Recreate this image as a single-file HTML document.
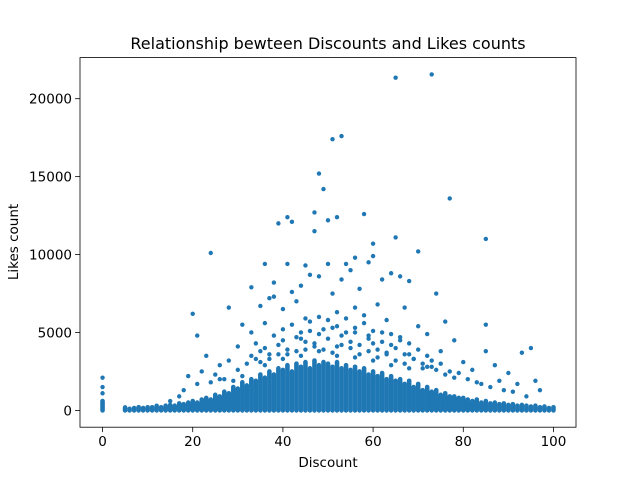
<!DOCTYPE html>
<html><head><meta charset="utf-8"><style>
body{margin:0;background:#fff}
svg{display:block;font-family:"DejaVu Sans","Liberation Sans",sans-serif}
</style></head><body>
<svg id="chart" width="640" height="480" xmlns="http://www.w3.org/2000/svg">
<rect width="640" height="480" fill="#fff"/>
<text x="328" y="49" font-size="16" text-anchor="middle" fill="#000">Relationship bewteen Discounts and Likes counts</text>
<text x="328" y="467" font-size="13.5" text-anchor="middle" fill="#000">Discount</text>
<text x="18" y="242" font-size="13.5" text-anchor="middle" fill="#000" transform="rotate(-90 18 242)">Likes count</text>
<g id="marks"></g>
<g id="blob"></g>
<g id="axes"></g>
</svg>
<script>
const xTicks = [0, 20, 40, 60, 80, 100];
const yTicks = [0, 5000, 10000, 15000, 20000];
const yTickLabels = ["0", "5000", "10000", "15000", "20000"];
const blobDiscounts = [0,5,6,7,8,9,10,11,12,13,14,15,16,17,18,19,20,21,22,23,24,25,26,27,28,29,30,31,32,33,34,35,36,37,38,39,40,41,42,43,44,45,46,47,48,49,50,51,52,53,54,55,56,57,58,59,60,61,62,63,64,65,66,67,68,69,70,71,72,73,74,75,76,77,78,79,80,81,82,83,84,85,86,87,88,89,90,91,92,93,94,95,96,97,98,99,100];
const blobTops = [600,150,100,150,200,150,200,200,250,200,300,350,300,450,400,500,600,500,700,800,700,1000,900,1200,1100,1500,1400,1800,1600,2000,1900,2300,2100,2500,2300,2700,2600,2900,2500,3000,2800,3100,2700,3200,2900,3100,3000,2800,3100,2700,2900,2600,2800,2500,2700,2300,2500,2200,2400,2000,2200,1900,2000,1700,1900,1500,1700,1300,1500,1200,1300,1000,1100,900,900,800,800,700,600,700,500,600,450,500,400,450,350,400,300,350,300,250,300,200,250,150,200];
const ptDiscount = [0,0,0,73,65,53,51,48,49,77,47,50,52,58,41,42,39,85,65,47,60,24,70,56,59,54,36,45,50,41,55,64,66,60,62,68,46,48,53,38,44,33,57,42,74,38,37,51,28,20,35,43,61,67,52,56,40,21,31,85,76,78,72,23,85,19,95,93,87,90,96,33,36,45,58,63,70,26,22,30,34,44,49,54,59,66,75,80,82,88,92,97,15,12,8,5,25,28,64,68,73,
 30,32,34,35,37,39,40,41,43,45,46,47,48,50,51,52,53,55,56,57,59,60,61,62,63,65,67,69,71,72,74,76,78,31,33,36,38,40,42,44,46,48,50,52,54,56,58,60,62,64,66,68,70,72,75,79,81,84,86,89,29,35,39,43,47,49,51,55,57,61,65,67,71,77,27,37,41,45,53,59,63,69,73,83,91,94,17,18,21,24,26,36,40,44,48,52,56,60,64,68];
const ptLikes = [2100,1500,1100,21560,21350,17600,17400,15200,14200,13600,12700,12200,12400,12600,12400,12100,12000,11000,11100,11500,10700,10100,10200,9800,9500,9400,9400,9300,9400,9400,9000,8800,8600,9900,8400,8300,8700,8600,8400,8200,8000,7900,7800,7600,7500,7300,7200,7500,6600,6200,6700,7000,6800,6600,6300,6600,6500,4800,5500,5500,5700,4500,4900,3500,3800,2200,4000,3700,2900,2400,1900,5000,5600,5900,6100,5800,5400,2900,2500,4100,4300,4600,5200,5000,4800,4700,3800,3100,2600,1900,1700,1300,600,300,200,200,2300,3200,4200,3600,3200,
 2600,3000,3300,3800,3600,4200,4500,3900,4700,4400,5100,4300,4900,4600,5300,4100,4800,4400,5000,4200,4600,4300,3900,4400,3700,4000,3600,3300,3000,2800,2600,2300,2100,2200,3500,4000,4800,5200,5500,5000,5700,6000,5800,5400,5900,5300,5600,5100,5000,4900,4500,4300,3900,3500,3000,2400,2000,1700,1500,1300,1900,3100,3600,3800,4100,3900,3700,4000,3600,3400,3200,3000,2700,2500,2000,3300,3600,3900,4200,3800,3600,3300,2800,1800,1200,900,900,1300,1700,1800,2000,2900,3300,3500,3800,3500,3400,3200,2900,2700];

const L=80,R=576,T=57.6,B=427.2, xmin=-5,xmax=105, ymin=-1078,ymax=22638;
const sx=v=>L+(v-xmin)/(xmax-xmin)*(R-L);
const sy=v=>B-(v-ymin)/(ymax-ymin)*(B-T);
const NS="http://www.w3.org/2000/svg";
const C="#1f77b4";
const marks=document.getElementById('marks'), blob=document.getElementById('blob'), axes=document.getElementById('axes');
function mk(tag,attrs,parent){const e=document.createElementNS(NS,tag);for(const k in attrs)e.setAttribute(k,attrs[k]);parent.appendChild(e);return e;}
blobDiscounts.forEach((d,i)=>{
  const e=mk('line',{x1:sx(d),x2:sx(d),y1:sy(0),y2:sy(blobTops[i]),stroke:C,'stroke-width':4.6,'stroke-linecap':'round'},blob);
  
  
});
ptDiscount.forEach((d,i)=>{
  const e=mk('circle',{cx:sx(d),cy:sy(ptLikes[i]),r:2.2,fill:C},marks);
  
  
});
mk('rect',{x:L,y:T,width:R-L,height:B-T,fill:'none',stroke:'#000','stroke-width':0.8},axes);
xTicks.forEach(t=>{
  const x=sx(t);
  mk('line',{x1:x,x2:x,y1:B,y2:B+4.9,stroke:'#000','stroke-width':0.8},axes);
  const e=mk('text',{x:x,y:B+19,'font-size':13.5,'text-anchor':'middle',fill:'#000'},axes);
  e.textContent=t;
  
  
});
yTicks.forEach((t,i)=>{
  const y=sy(t);
  mk('line',{x1:L-4.9,x2:L,y1:y,y2:y,stroke:'#000','stroke-width':0.8},axes);
  const e=mk('text',{x:L-8,y:y+5,'font-size':13.5,'text-anchor':'end',fill:'#000'},axes);
  e.textContent=yTickLabels[i];
  
  
});
</script>
</body></html>
